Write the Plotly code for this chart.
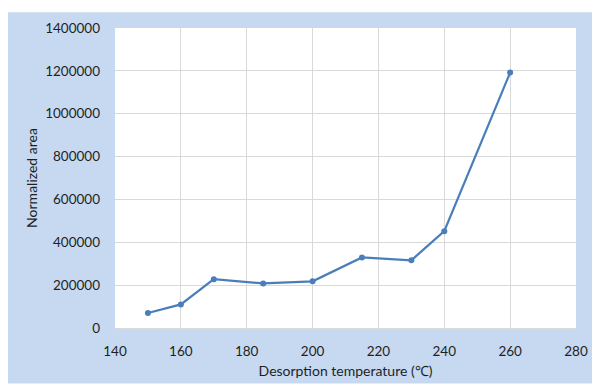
import plotly.graph_objects as go

temperature = [150, 160, 170, 185, 200, 215, 230, 240, 260]
normalized_area = [70000, 110000, 228000, 208000, 218000, 329000, 316000, 452000, 1192000]

x_ticks = [140, 160, 180, 200, 220, 240, 260, 280]
y_ticks = [0, 200000, 400000, 600000, 800000, 1000000, 1200000, 1400000]

BLUE_BG = "#c6d9f1"
LINE = "#4a7ebb"
GRID = "#d9d9d9"
FONT = "Lato"

fig = go.Figure()
fig.add_trace(go.Scatter(
    x=temperature, y=normalized_area, mode="lines+markers",
    line=dict(color=LINE, width=2.25),
    marker=dict(color=LINE, size=6),
    showlegend=False,
))

# page body has an 8px margin; figure occupies (8,8)-(600,388)
OFF = 8
W, H = 600 - OFF, 388 - OFF
L, R, T, B = 115 - OFF, 20, 26 - OFF, 388 - 329
pw, ph = W - L - R, H - T - B

def px_x(x):
    return (x - OFF - L) / pw

def px_y(y):
    return (H - B - (y - OFF)) / ph

fig.update_layout(
    width=W, height=H,
    margin=dict(l=L, r=R, t=T, b=B),
    paper_bgcolor=BLUE_BG,
    plot_bgcolor="white",
    font=dict(family=FONT, size=13, color="#1f1f1f"),
    shapes=[
        dict(type="rect", xref="paper", yref="paper", x0=px_x(0), x1=px_x(605),
             y0=px_y(10), y1=px_y(0), fillcolor="white", line=dict(width=0), layer="above"),
        dict(type="rect", xref="paper", yref="paper", x0=px_x(0), x1=px_x(605),
             y0=px_y(392), y1=px_y(385), fillcolor="white", line=dict(width=0), layer="above"),
    ],
    xaxis=dict(
        range=[140, 280], tickvals=x_ticks, ticktext=[str(v) for v in x_ticks],
        showgrid=True, gridcolor=GRID, gridwidth=1,
        showline=True, linecolor=GRID, linewidth=1,
        ticks="", ticklabelstandoff=11, zeroline=False,
        title=dict(text="Desorption temperature (℃)", font=dict(size=14), standoff=7),
        tickfont=dict(size=13.5),
    ),
    yaxis=dict(
        range=[0, 1400000], tickvals=y_ticks, ticktext=[str(v) for v in y_ticks],
        showgrid=True, gridcolor=GRID, gridwidth=1,
        showline=False, zeroline=False,
        ticks="", ticklabelstandoff=14,
        title=dict(text="Normalized area", font=dict(size=14), standoff=4),
        tickfont=dict(size=13.5),
    ),
)

fig.write_html("out.html")
